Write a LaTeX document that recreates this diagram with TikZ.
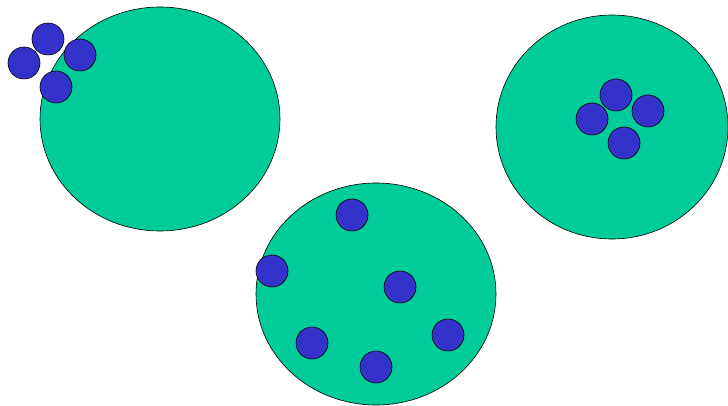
\documentclass[tikz,border=0pt]{standalone}
\usepackage{tikz}
\definecolor{cellgreen}{RGB}{0,204,153}
\definecolor{dotblue}{RGB}{51,51,204}
\tikzset{
  cell/.style={draw=black, fill=cellgreen, line width=0.6pt},
  particle/.style={draw=black, fill=dotblue, line width=0.6pt}
}

\begin{document}
\begin{tikzpicture}[x=1pt, y=-1pt]
  \useasboundingbox (0,0) rectangle (728,406);

  % cells
  \draw[cell] (160,119) ellipse [x radius=120, y radius=112];
  \draw[cell] (376,294) ellipse [x radius=120, y radius=111];
  \draw[cell] (612,127) ellipse [x radius=116, y radius=112];

  % particles outside, near the first cell
  \foreach \x/\y in {48/39, 24/63, 80/55, 56/87}
    \draw[particle] (\x,\y) circle [radius=16];

  % particles spread inside the middle cell
  \foreach \x/\y in {352/215, 272/271, 400/287, 312/343, 448/335, 376/367}
    \draw[particle] (\x,\y) circle [radius=16];

  % particles clustered in the right cell
  \foreach \x/\y in {616/95, 592/119, 648/111, 624/143}
    \draw[particle] (\x,\y) circle [radius=16];
\end{tikzpicture}
\end{document}
